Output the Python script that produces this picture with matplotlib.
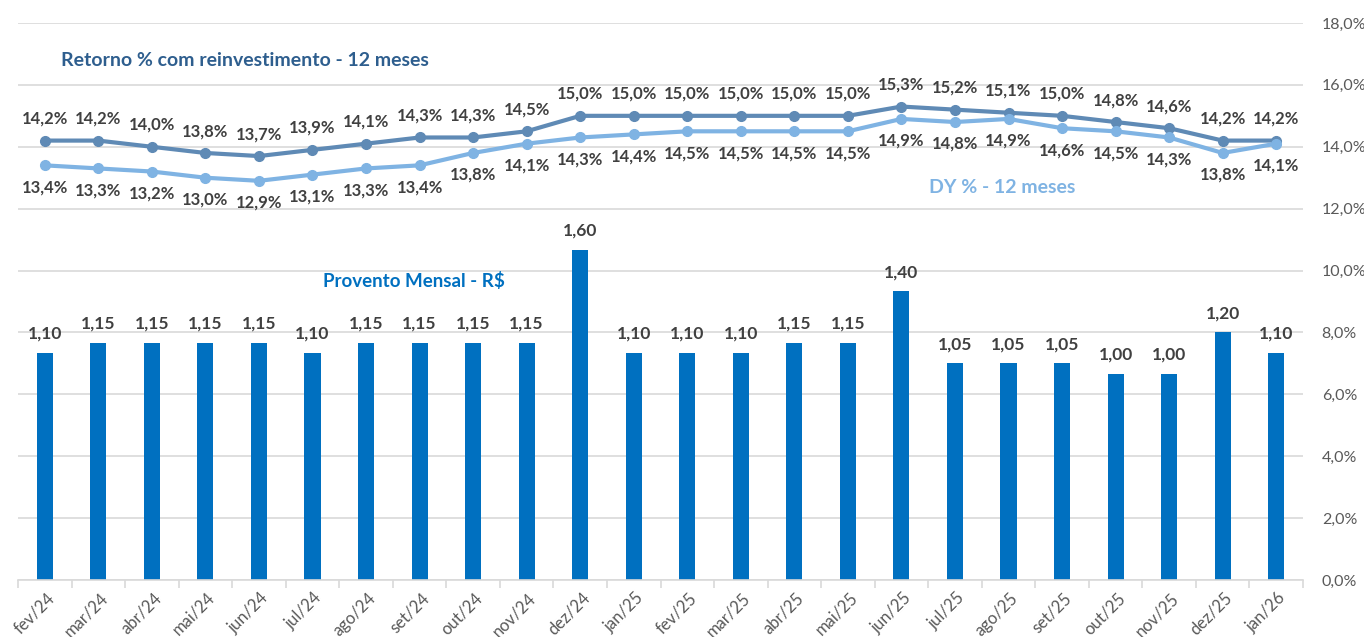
import matplotlib.pyplot as plt
import numpy as np

plt.rcParams['font.family'] = ['Lato', 'DejaVu Sans']

months = ['fev/24', 'mar/24', 'abr/24', 'mai/24', 'jun/24', 'jul/24', 'ago/24', 'set/24',
          'out/24', 'nov/24', 'dez/24', 'jan/25', 'fev/25', 'mar/25', 'abr/25', 'mai/25',
          'jun/25', 'jul/25', 'ago/25', 'set/25', 'out/25', 'nov/25', 'dez/25', 'jan/26']
provento = [1.10, 1.15, 1.15, 1.15, 1.15, 1.10, 1.15, 1.15, 1.15, 1.15, 1.60, 1.10,
            1.10, 1.10, 1.15, 1.15, 1.40, 1.05, 1.05, 1.05, 1.00, 1.00, 1.20, 1.10]
retorno = [14.2, 14.2, 14.0, 13.8, 13.7, 13.9, 14.1, 14.3, 14.3, 14.5, 15.0, 15.0,
           15.0, 15.0, 15.0, 15.0, 15.3, 15.2, 15.1, 15.0, 14.8, 14.6, 14.2, 14.2]
dy = [13.4, 13.3, 13.2, 13.0, 12.9, 13.1, 13.3, 13.4, 13.8, 14.1, 14.3, 14.4,
      14.5, 14.5, 14.5, 14.5, 14.9, 14.8, 14.9, 14.6, 14.5, 14.3, 13.8, 14.1]

bar_color = '#0070C0'
ret_color = '#5F8AB5'
dy_color = '#7FB3E3'
lbl_color = '#404040'
grid_color = '#D9D9D9'

fig = plt.figure(figsize=(13.64, 6.37), dpi=100)
ax = fig.add_axes([18 / 1364, 57 / 637, 1285 / 1364, 557 / 637])
ax2 = ax.twinx()
x = np.arange(len(months))

# bars on hidden left scale
ax.bar(x, provento, width=0.3, color=bar_color, zorder=2)
ax.set_ylim(0, 2.7)
ax.set_xlim(-0.5, len(months) - 0.5)
ax.set_yticks(np.arange(0, 2.71, 0.3))
ax.yaxis.grid(True, color=grid_color, linewidth=1.2, zorder=0)
ax.set_axisbelow(True)
ax.tick_params(axis='y', left=False, right=False, labelleft=False)
for s in ['top', 'right', 'left']:
    ax.spines[s].set_visible(False)
ax.spines['bottom'].set_color(grid_color)
ax.spines['bottom'].set_linewidth(1.2)
ax.set_xticks(np.arange(-0.5, len(months), 1))
ax.set_xticklabels([])
ax.tick_params(axis='x', direction='out', length=6, color=grid_color, width=1.2)
for i, m in enumerate(months):
    ax.annotate(m, (i, 0), xytext=(1, -7), textcoords='offset points',
                rotation=45, ha='right', va='top', rotation_mode='anchor',
                fontsize=12, color='#595959')
for i, v in enumerate(provento):
    ax.annotate(f'{v:.2f}'.replace('.', ','), (i, v), xytext=(0, 8),
                textcoords='offset points', ha='center', va='bottom',
                fontsize=12.5, fontweight='bold', color=lbl_color)

# lines on right percent scale
ax2.set_ylim(0, 18)
ax2.set_yticks(np.arange(0, 18.1, 2))
ax2.set_yticklabels([f'{v:.1f}%'.replace('.', ',') for v in np.arange(0, 18.1, 2)],
                    fontsize=11.5, color='#595959')
ax2.tick_params(axis='y', right=False, left=False, pad=10)
for s in ax2.spines.values():
    s.set_visible(False)
ax2.plot(x, retorno, color=ret_color, linewidth=3, marker='o', markersize=7, zorder=3)
ax2.plot(x, dy, color=dy_color, linewidth=3, marker='o', markersize=7, zorder=3)
for i, v in enumerate(retorno):
    ax2.annotate(f'{v:.1f}%'.replace('.', ','), (i, v), xytext=(0, 10),
                 textcoords='offset points', ha='center', va='bottom',
                 fontsize=12, fontweight='bold', color=lbl_color)
for i, v in enumerate(dy):
    ax2.annotate(f'{v:.1f}%'.replace('.', ','), (i, v), xytext=(0, -10),
                 textcoords='offset points', ha='center', va='top',
                 fontsize=12, fontweight='bold', color=lbl_color)

fig.text(245 / 1364, 1 - 60 / 637, 'Retorno % com reinvestimento - 12 meses',
         ha='center', va='center', fontsize=14, fontweight='bold', color='#2E5E8E')
fig.text(1002 / 1364, 1 - 188 / 637, 'DY % - 12 meses',
         ha='center', va='center', fontsize=14, fontweight='bold', color=dy_color)
fig.text(414 / 1364, 1 - 281 / 637, 'Provento Mensal - R$',
         ha='center', va='center', fontsize=13.5, fontweight='bold', color=bar_color)

fig.savefig('out.png', dpi=100)
